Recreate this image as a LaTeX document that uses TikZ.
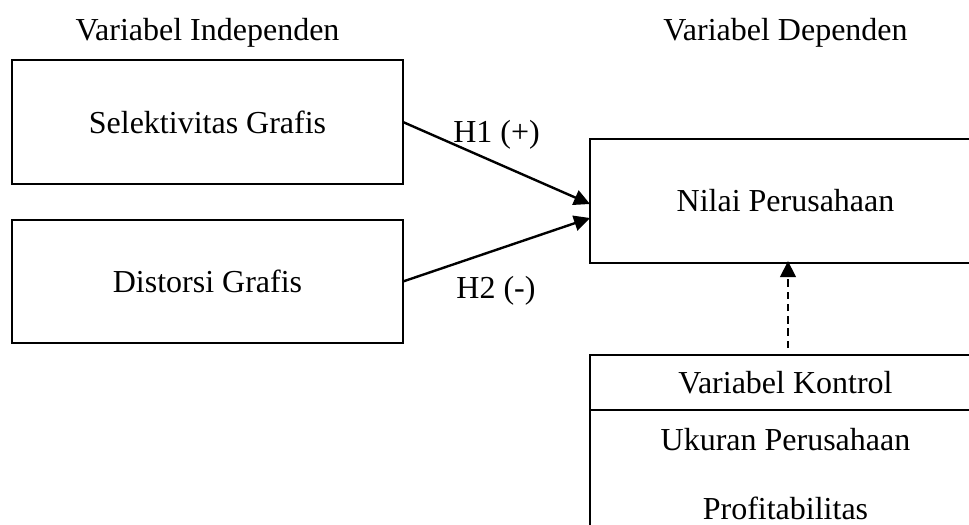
\documentclass[tikz,border=0pt]{standalone}
\usepackage{fontspec}
\setmainfont{Liberation Serif}
\usetikzlibrary{arrows.meta,calc}
\begin{document}
\begin{tikzpicture}[x=0.375pt,y=-0.375pt,
  font=\fontsize{12}{14}\selectfont,
  box/.style={draw,line width=0.8pt,inner sep=0pt,outer sep=0pt,minimum width=146.6pt},
  lbl/.style={inner sep=0pt,anchor=base},
  arr/.style={line width=0.9pt,-{Triangle[length=6pt,width=5.8pt]}},
  darr/.style={arr,dash pattern=on 2.8pt off 1.8pt}]
\clip (0,0) rectangle (969,524);
\useasboundingbox (0,0) rectangle (969,524);
% titles
\node[lbl] (tind) at (207.5,40) {Variabel Independen};
\node[lbl] (tdep) at (785.5,40) {Variabel Dependen};
% boxes
\node[box,minimum height=46.5pt] (b1) at (207.5,122) {Selektivitas Grafis};
\node[box,minimum height=46.1pt] (b2) at (207.5,281.5) {Distorsi Grafis};
\node[box,minimum height=46.5pt] (b3) at (785.5,201) {Nilai Perusahaan};
\node[box,minimum height=20.6pt] (b4) at (785.5,382.5) {Variabel Kontrol};
\node[box,minimum height=56.25pt,anchor=north] (b5) at (785.5,410) {};
\node[lbl] (u1) at (785.5,450) {Ukuran Perusahaan};
\node[lbl] (u2) at (785.5,519) {Profitabilitas};
% arrows
\draw[arr] (b1.east) -- ($(b3.west)+(0,3)$);
\draw[arr] (b2.east) -- ($(b3.west)+(0,17)$);
\draw[darr] ($(b4.north)+(2.5,-7)$) -- ($(b3.south)+(2.5,-2)$);
% labels
\node[lbl] (h1) at (496.5,142) {H1 (+)};
\node[lbl] (h2) at (496,298) {H2 (-)};
\end{tikzpicture}
\end{document}
